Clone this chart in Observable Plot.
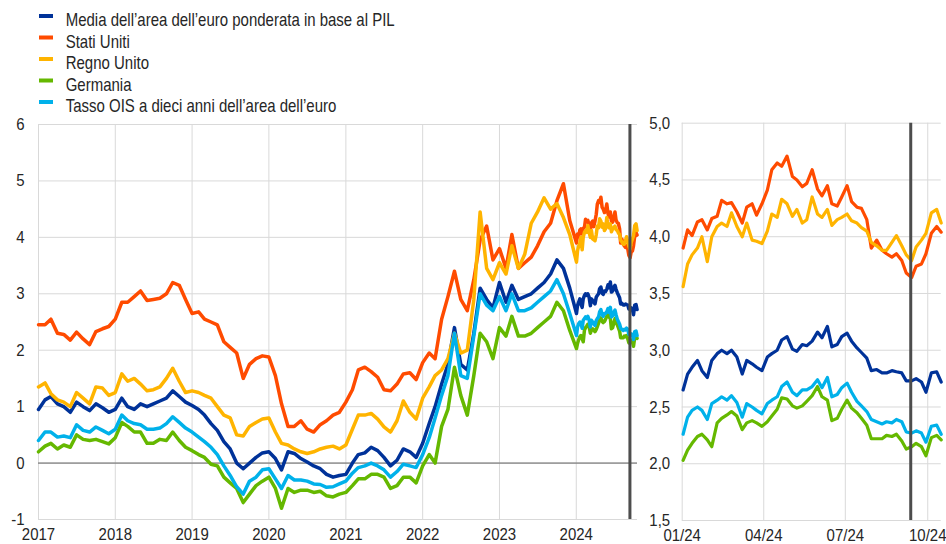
<!DOCTYPE html>
<html>
<head>
<meta charset="utf-8">
<script src="https://cdn.jsdelivr.net/npm/d3@7"></script>
<script src="https://cdn.jsdelivr.net/npm/@observablehq/plot@0.6"></script>
<style>
  html, body { margin: 0; padding: 0; background: #fff; }
  #wrap { position: relative; width: 946px; height: 544px; overflow: hidden; background: #fff; }
  #wrap > * { position: absolute; top: 0; }
</style>
</head>
<body>
<div id="wrap"></div>
<script>
// ---------------- DATA ----------------
// Legend labels / series names
const seriesNames = [
  "Media dell’area dell’euro ponderata in base al PIL",
  "Stati Uniti",
  "Regno Unito",
  "Germania",
  "Tasso OIS a dieci anni dell’area dell’euro"
];
const seriesColors = ["#003299", "#FF4B00", "#FFB400", "#65B800", "#00B1EA"];

// Left panel: monthly readings, Jan 2017 – Dec 2023 (first of each month)
const eaMonthly = [
  0.95, 1.12, 1.18, 1.05, 1.00, 0.90, 1.08, 1.00, 0.93, 1.05, 0.98, 0.90,
  0.95, 1.15, 1.00, 0.95, 1.05, 1.00, 1.05, 1.10, 1.15, 1.28, 1.18, 1.08,
  1.02, 0.95, 0.85, 0.70, 0.58, 0.38, 0.25, 0.00, -0.10, 0.00, 0.10, 0.18,
  0.20, 0.08, -0.12, 0.20, 0.17, 0.08, 0.02, -0.05, -0.10, -0.20, -0.25, -0.22,
  -0.20, 0.00, 0.15, 0.18, 0.28, 0.22, 0.10, -0.05, 0.05, 0.25, 0.20, 0.10,
  0.35, 0.70, 1.00, 1.40, 1.75, 2.40, 1.75, 1.65, 2.30, 3.10, 2.90, 2.75,
  3.20, 2.85, 3.15, 2.90, 2.95, 3.00, 3.10, 3.20, 3.35, 3.60, 3.45, 3.10
];
const usMonthly = [
  2.45, 2.45, 2.55, 2.30, 2.28, 2.18, 2.32, 2.20, 2.10, 2.33, 2.38, 2.42,
  2.55, 2.85, 2.85, 2.95, 3.05, 2.88, 2.90, 2.92, 3.00, 3.20, 3.15, 2.90,
  2.65, 2.68, 2.55, 2.50, 2.45, 2.15, 2.05, 1.95, 1.50, 1.75, 1.85, 1.90,
  1.88, 1.55, 1.05, 0.65, 0.65, 0.75, 0.60, 0.55, 0.68, 0.75, 0.85, 0.90,
  1.08, 1.30, 1.65, 1.70, 1.62, 1.52, 1.30, 1.28, 1.40, 1.58, 1.60, 1.48,
  1.78, 1.95, 1.85, 2.55, 2.95, 3.40, 2.90, 2.70, 3.25, 3.95, 4.20, 3.60,
  3.80, 3.45, 4.05, 3.45, 3.55, 3.65, 3.85, 4.10, 4.25, 4.65, 4.95, 4.30
];
const ukMonthly = [
  1.35, 1.42, 1.23, 1.12, 1.08, 1.00, 1.25, 1.15, 1.05, 1.35, 1.33, 1.20,
  1.25, 1.58, 1.45, 1.50, 1.40, 1.28, 1.30, 1.35, 1.50, 1.68, 1.45, 1.25,
  1.28, 1.25, 1.20, 1.15, 1.00, 0.85, 0.80, 0.50, 0.48, 0.65, 0.72, 0.78,
  0.80, 0.55, 0.35, 0.32, 0.25, 0.20, 0.17, 0.20, 0.25, 0.28, 0.30, 0.25,
  0.32, 0.60, 0.85, 0.85, 0.88, 0.78, 0.64, 0.55, 0.75, 1.10, 0.90, 0.78,
  1.15, 1.35, 1.55, 1.65, 1.85, 2.30, 1.95, 2.00, 2.90, 4.45, 3.45, 3.25,
  3.55, 3.35, 3.85, 3.45, 3.70, 4.25, 4.45, 4.70, 4.50, 4.60, 4.35, 4.05
];
const deMonthly = [
  0.20, 0.30, 0.35, 0.25, 0.32, 0.28, 0.50, 0.42, 0.40, 0.42, 0.38, 0.34,
  0.45, 0.72, 0.65, 0.55, 0.55, 0.35, 0.35, 0.42, 0.40, 0.55, 0.40, 0.28,
  0.22, 0.15, 0.10, -0.02, -0.05, -0.25, -0.35, -0.45, -0.70, -0.55, -0.40, -0.32,
  -0.25, -0.45, -0.80, -0.45, -0.52, -0.48, -0.48, -0.52, -0.50, -0.58, -0.60, -0.55,
  -0.52, -0.40, -0.28, -0.28, -0.20, -0.20, -0.25, -0.45, -0.40, -0.25, -0.25, -0.35,
  -0.05, 0.15, 0.00, 0.65, 0.95, 1.70, 1.20, 0.85, 1.55, 2.30, 2.15, 1.85,
  2.40, 2.25, 2.60, 2.25, 2.25, 2.30, 2.40, 2.50, 2.60, 2.85, 2.70, 2.35
];
const oisMonthly = [
  0.40, 0.55, 0.55, 0.46, 0.48, 0.45, 0.68, 0.58, 0.55, 0.64, 0.58, 0.52,
  0.60, 0.85, 0.75, 0.70, 0.68, 0.60, 0.60, 0.62, 0.70, 0.82, 0.72, 0.62,
  0.55, 0.46, 0.38, 0.28, 0.15, -0.05, -0.22, -0.42, -0.55, -0.32, -0.25, -0.12,
  -0.10, -0.28, -0.45, -0.22, -0.30, -0.30, -0.32, -0.37, -0.38, -0.43, -0.42, -0.37,
  -0.32, -0.18, -0.08, -0.05, 0.00, -0.05, -0.12, -0.25, -0.15, -0.02, -0.05, -0.08,
  0.15, 0.45, 0.80, 1.20, 1.55, 2.30, 1.55, 1.50, 2.25, 3.00, 2.80, 2.70,
  2.95, 2.70, 3.00, 2.70, 2.70, 2.75, 2.85, 2.95, 3.05, 3.25, 3.00, 2.65
];

// 2024 readings (used in both panels)
const weekDates = [
  "2024-01-02","2024-01-07","2024-01-12","2024-01-18","2024-01-23","2024-01-29",
  "2024-02-03","2024-02-09","2024-02-14","2024-02-20","2024-02-25",
  "2024-03-02","2024-03-08","2024-03-13","2024-03-19","2024-03-24","2024-03-30",
  "2024-04-05","2024-04-10","2024-04-16","2024-04-21","2024-04-27",
  "2024-05-03","2024-05-08","2024-05-14","2024-05-19","2024-05-25","2024-05-31",
  "2024-06-05","2024-06-11","2024-06-16","2024-06-22","2024-06-27",
  "2024-07-03","2024-07-08","2024-07-14","2024-07-19","2024-07-25","2024-07-30",
  "2024-08-05","2024-08-11","2024-08-16","2024-08-22","2024-08-27",
  "2024-09-02","2024-09-07","2024-09-13","2024-09-18","2024-09-24","2024-09-29",
  "2024-10-05","2024-10-11","2024-10-16"
];
const eaWeekly = [
  2.65, 2.79, 2.85, 2.91, 2.82, 2.76, 2.91, 2.97, 3.00, 2.97,
  3.00, 2.94, 2.79, 2.91, 2.88, 2.85, 2.82, 2.94, 2.97, 3.00,
  3.09, 3.12, 3.01, 2.99, 3.05, 3.04, 3.08, 3.16, 3.11, 3.21,
  3.03, 3.05, 3.12, 3.15, 3.08, 3.02, 2.98, 2.93, 2.82, 2.83,
  2.80, 2.80, 2.82, 2.81, 2.80, 2.73, 2.73, 2.75, 2.72, 2.63,
  2.80, 2.81, 2.72
];
const usWeekly = [
  3.90, 4.06, 4.01, 4.13, 4.15, 4.06, 4.16, 4.18, 4.32, 4.29,
  4.30, 4.22, 4.12, 4.26, 4.29, 4.19, 4.29, 4.41, 4.59, 4.65,
  4.62, 4.71, 4.53, 4.50, 4.44, 4.47, 4.59, 4.42, 4.36, 4.45,
  4.29, 4.27, 4.35, 4.45, 4.31, 4.26, 4.25, 4.15, 3.90, 3.97,
  3.88, 3.85, 3.82, 3.85, 3.79, 3.68, 3.64, 3.74, 3.76, 3.85,
  4.03, 4.09, 4.04
];
const ukWeekly = [
  3.56, 3.76, 3.84, 3.90, 4.00, 3.78, 4.00, 4.09, 4.12, 4.09,
  4.21, 4.09, 4.00, 4.12, 3.97, 3.96, 3.94, 4.05, 4.20, 4.17,
  4.33, 4.29, 4.18, 4.24, 4.12, 4.15, 4.35, 4.20, 4.17, 4.24,
  4.10, 4.15, 4.17, 4.20, 4.14, 4.12, 4.08, 4.05, 3.95, 3.92,
  3.88, 3.88, 3.95, 4.01, 3.92, 3.84, 3.79, 3.91, 3.97, 4.03,
  4.21, 4.24, 4.12
];
const deWeekly = [
  2.03, 2.12, 2.18, 2.24, 2.26, 2.21, 2.15, 2.36, 2.40, 2.43,
  2.46, 2.42, 2.30, 2.36, 2.38, 2.36, 2.33, 2.37, 2.42, 2.48,
  2.58, 2.57, 2.51, 2.49, 2.51, 2.55, 2.60, 2.68, 2.59, 2.56,
  2.38, 2.40, 2.48, 2.56, 2.49, 2.45, 2.40, 2.34, 2.22, 2.22,
  2.22, 2.25, 2.24, 2.26, 2.20, 2.13, 2.15, 2.18, 2.15, 2.07,
  2.23, 2.25, 2.21
];
const oisWeekly = [
  2.26, 2.41, 2.47, 2.50, 2.47, 2.39, 2.53, 2.56, 2.59, 2.56,
  2.60, 2.54, 2.41, 2.53, 2.50, 2.47, 2.44, 2.53, 2.56, 2.59,
  2.68, 2.72, 2.63, 2.60, 2.65, 2.65, 2.68, 2.74, 2.67, 2.76,
  2.59, 2.61, 2.67, 2.71, 2.63, 2.55, 2.51, 2.46, 2.39, 2.37,
  2.35, 2.37, 2.36, 2.39, 2.37, 2.28, 2.27, 2.29, 2.27, 2.19,
  2.33, 2.34, 2.26
];

const eventDate = "2024-09-12";            // vertical marker
const leftYTicks = [-1, 0, 1, 2, 3, 4, 5, 6];
const rightYTicks = [1.5, 2.0, 2.5, 3.0, 3.5, 4.0, 4.5, 5.0];
const leftXTicks = ["2017-01-01","2018-01-01","2019-01-01","2020-01-01","2021-01-01","2022-01-01","2023-01-01","2024-01-01"];
const rightXTicks = ["2024-01-01","2024-04-01","2024-07-01","2024-10-01"];
const leftDomain = ["2017-01-01", "2024-10-18"];
const rightDomain = ["2024-01-01", "2024-10-16"];

// ---------------- BUILD ----------------
const parse = s => new Date(s + "T00:00:00Z");
const monthDates = d3.utcMonth.range(parse("2017-01-01"), parse("2024-01-01"));
const monthlySets = [eaMonthly, usMonthly, ukMonthly, deMonthly, oisMonthly];
const weeklySets = [eaWeekly, usWeekly, ukWeekly, deWeekly, oisWeekly];

const series = seriesNames.map((name, i) => {
  const weekly = weekDates.map((d, j) => ({date: parse(d), value: weeklySets[i][j]}));
  const monthly = monthDates.map((d, j) => ({date: d, value: monthlySets[i][j]}));
  return {name, color: seriesColors[i], all: monthly.concat(weekly), weekly};
});

const FONT = '"Liberation Sans", Arial, Helvetica, sans-serif';
const TXT = "#262626";
const GRID = "#d9d9d9";
const STRETCH = 1.15;

// The reference type is slightly taller than wide: stretch tick labels vertically
function stretchLabels(svg) {
  svg.querySelectorAll('g[aria-label$="tick label"] text').forEach(t => {
    const tr = t.getAttribute("transform") || "";
    t.setAttribute("transform", `${tr} scale(1,${STRETCH})`);
  });
}

const wrap = document.getElementById("wrap");

// Left panel
const leftPlot = Plot.plot({
  width: 640, height: 544,
  marginLeft: 38, marginRight: 3, marginTop: 124, marginBottom: 25,
  style: {background: "transparent", fontFamily: FONT, fontSize: "15px", color: TXT, overflow: "visible"},
  x: {type: "utc", domain: leftDomain.map(parse), label: null},
  y: {domain: [-1, 6], label: null},
  marks: [
    Plot.gridX({ticks: leftXTicks.map(parse), stroke: GRID, strokeOpacity: 1}),
    Plot.gridY({ticks: leftYTicks, stroke: GRID, strokeOpacity: 1}),
    Plot.ruleY([0], {stroke: "#666666", strokeWidth: 1}),
    ...series.map(s => Plot.line(s.all, {x: "date", y: "value", stroke: s.color, strokeWidth: 3.5, strokeLinejoin: "round"})),
    Plot.ruleX([parse(eventDate)], {stroke: "#4d4d4d", strokeWidth: 3}),
    Plot.axisX({ticks: leftXTicks.map(parse), tickSize: 0, tickPadding: 8, tickFormat: d3.utcFormat("%Y")}),
    Plot.axisY({ticks: leftYTicks, tickSize: 0, tickPadding: 14, tickFormat: d => String(d)})
  ]
});
leftPlot.style.left = "0px";
stretchLabels(leftPlot);
wrap.appendChild(leftPlot);

// Right panel
const rightPlot = Plot.plot({
  width: 306, height: 544,
  marginLeft: 41.7, marginRight: 5.3, marginTop: 122.7, marginBottom: 24,
  style: {background: "transparent", fontFamily: FONT, fontSize: "15px", color: TXT, overflow: "visible"},
  x: {type: "utc", domain: rightDomain.map(parse), label: null},
  y: {domain: [1.5, 5.0], label: null},
  marks: [
    Plot.gridX({ticks: rightXTicks.map(parse), stroke: GRID, strokeOpacity: 1}),
    Plot.gridY({ticks: rightYTicks, stroke: GRID, strokeOpacity: 1}),
    ...series.map(s => Plot.line(s.weekly, {x: "date", y: "value", stroke: s.color, strokeWidth: 3.2, strokeLinejoin: "round"})),
    Plot.ruleX([parse(eventDate)], {stroke: "#4d4d4d", strokeWidth: 3}),
    Plot.axisX({ticks: rightXTicks.map(parse), tickSize: 0, tickPadding: 8, tickFormat: d3.utcFormat("%m/%y")}),
    Plot.axisY({ticks: rightYTicks, tickSize: 0, tickPadding: 12, tickFormat: d => d.toFixed(1).replace(".", ",")})
  ]
});
rightPlot.style.left = "640px";
stretchLabels(rightPlot);
wrap.appendChild(rightPlot);

// Legend (above the plots)
const legend = d3.create("svg")
  .attr("width", 946).attr("height", 118)
  .style("left", "0px")
  .style("font-family", FONT).style("font-size", "15px");
series.forEach((s, i) => {
  const top = 13.3 + 21.5 * i;
  legend.append("rect").attr("x", 39).attr("y", top + 0.7).attr("width", 14).attr("height", 4).attr("fill", s.color);
  legend.append("text")
    .attr("transform", `translate(65.7,${top + 12.7}) scale(1,1.2)`)
    .attr("fill", TXT)
    .text(s.name);
});
wrap.appendChild(legend.node());
</script>
</body>
</html>
